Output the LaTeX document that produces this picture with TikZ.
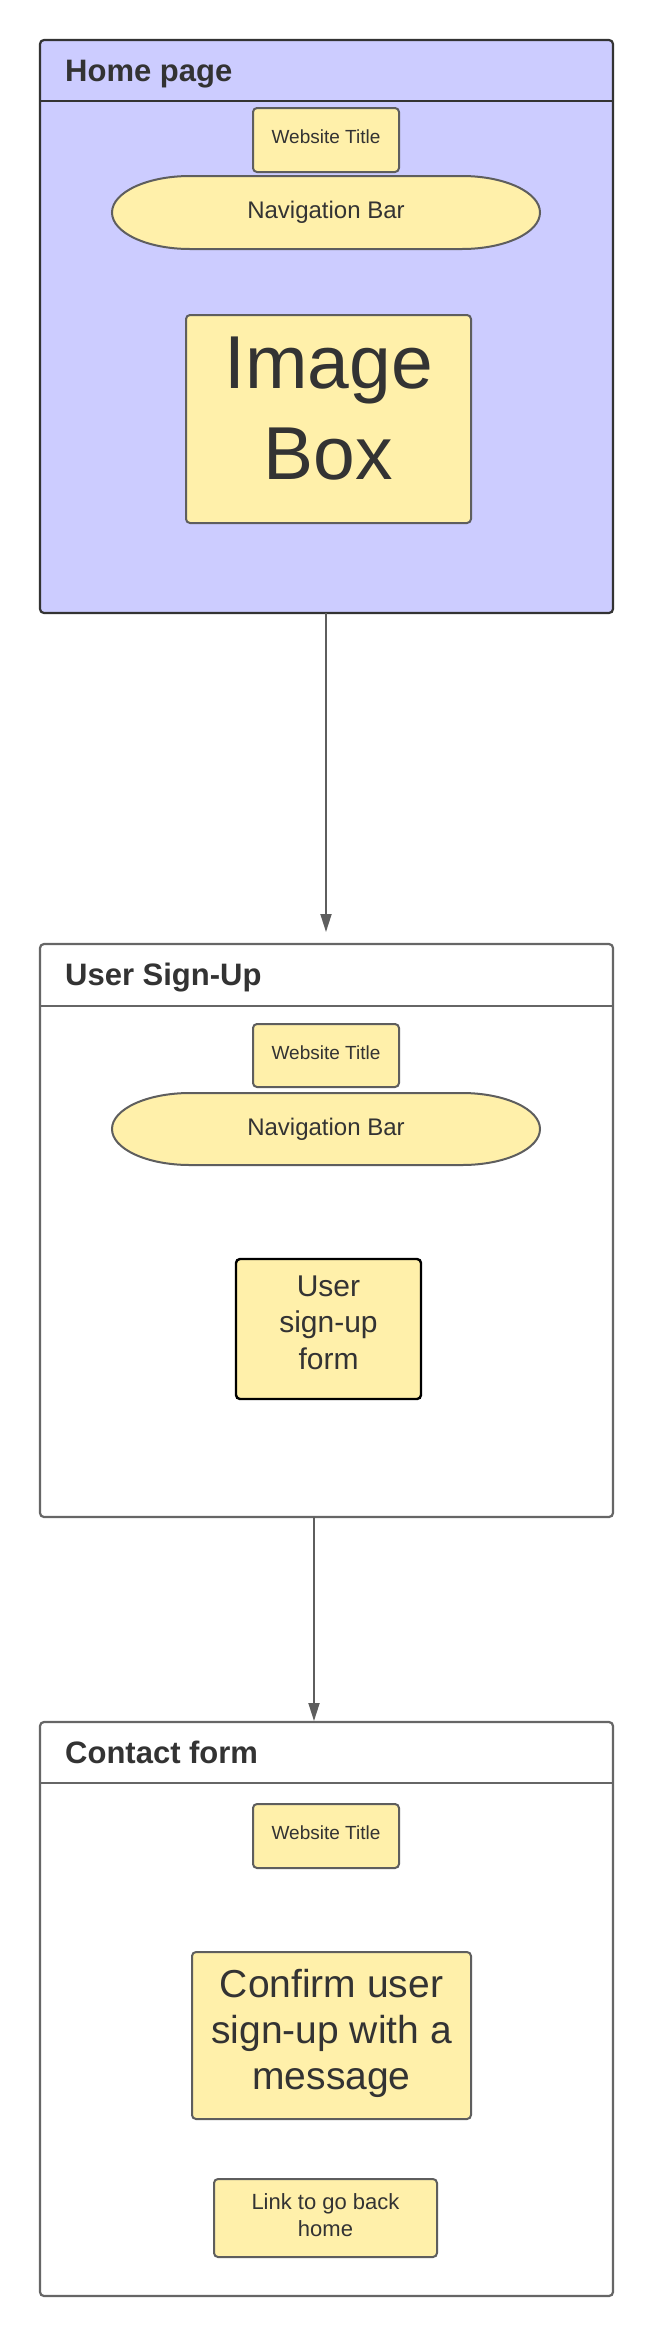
\documentclass[tikz,border=0pt]{standalone}
\usepackage{fontspec}
\setmainfont{Liberation Sans}
\usetikzlibrary{arrows.meta}
\definecolor{txt}{HTML}{333333}
\definecolor{edge}{HTML}{5E5E5E}
\definecolor{frameA}{HTML}{333333}
\definecolor{frameB}{HTML}{666666}
\definecolor{ylw}{HTML}{FFF0AA}
\definecolor{lav}{HTML}{CCCCFF}
\newcommand\lowstrut[1]{\rule[-#1]{0pt}{0pt}}
\begin{document}
\begin{tikzpicture}[x=1pt,y=-1pt,
  frame/.style={draw=frameB,line width=2.2pt,rounded corners=4pt,minimum width=573pt,minimum height=573pt,inner sep=0pt,outer sep=0pt},
  hline/.style={draw=frameB,line width=2.2pt},
  ttl/.style={anchor=base west,text=txt,font=\bfseries\fontsize{31}{37}\selectfont,inner sep=0pt},
  ybox/.style={draw=edge,fill=ylw,line width=2pt,rounded corners=4pt,text=txt,align=center,inner sep=0pt,outer sep=0pt},
  wtitle/.style={ybox,minimum width=146pt,minimum height=64pt,font=\fontsize{19}{23}\selectfont},
  navshape/.style={draw=edge,fill=ylw,line width=2pt},
  navtext/.style={text=txt,inner sep=0pt,font=\fontsize{24}{29}\selectfont},
  conn/.style={draw=edge,line width=1.8pt,-{Triangle[length=18pt,width=11pt]}},
]
\useasboundingbox (0,0) rectangle (653,2337);

% ---------- Home page ----------
\node[frame,draw=frameA,fill=lav] (home) at (326.5,326.5) {};
\draw[hline,draw=frameA] ([yshift=-61pt]home.north west) -- ([yshift=-61pt]home.north east);
\node[ttl] (homettl) at (65,81.7) {Home page};
\node[wtitle] (wt1) at (326,140) {Website Title\lowstrut{6pt}};
\coordinate (n1) at (326,212.5);
\path[navshape] ([shift={(-136,-36.5)}]n1) -- ([shift={(136,-36.5)}]n1)
  arc[start angle=90,end angle=-90,x radius=78pt,y radius=36.5pt]
  -- ([shift={(-136,36.5)}]n1)
  arc[start angle=270,end angle=90,x radius=78pt,y radius=36.5pt] -- cycle;
\node[navtext] (nav1) at (n1) {Navigation Bar};
\node[ybox,minimum width=285pt,minimum height=208pt,font=\fontsize{75}{91}\selectfont] (img) at (328.5,419) {Image\\Box\lowstrut{22pt}};

% ---------- User Sign-Up ----------
\node[frame,fill=white] (signup) at (326.5,1230.5) {};
\draw[hline] ([yshift=-62pt]signup.north west) -- ([yshift=-62pt]signup.north east);
\node[ttl] (signupttl) at (65,985) {User Sign-Up};
\node[wtitle,minimum height=63pt] (wt2) at (326,1055.5) {Website Title\lowstrut{6pt}};
\coordinate (n2) at (326,1129);
\path[navshape] ([shift={(-136,-36)}]n2) -- ([shift={(136,-36)}]n2)
  arc[start angle=90,end angle=-90,x radius=78pt,y radius=36pt]
  -- ([shift={(-136,36)}]n2)
  arc[start angle=270,end angle=90,x radius=78pt,y radius=36pt] -- cycle;
\node[navtext] (nav2) at (n2) {Navigation Bar};
\node[ybox,draw=black,line width=2.4pt,minimum width=185pt,minimum height=140pt,font=\fontsize{30}{36.7}\selectfont] (form) at (328.5,1329) {User\\sign-up\\form\lowstrut{13pt}};

% ---------- Contact form ----------
\node[frame,fill=white,minimum height=574pt] (contact) at (326.5,2009) {};
\draw[hline] ([yshift=-61pt]contact.north west) -- ([yshift=-61pt]contact.north east);
\node[ttl] (contactttl) at (65,1763) {Contact form};
\node[wtitle] (wt3) at (326,1836) {Website Title\lowstrut{6pt}};
\node[ybox,minimum width=279pt,minimum height=167pt,font=\fontsize{39}{46}\selectfont] (confirm) at (331.5,2035.5) {Confirm user\\sign-up with a\\message\lowstrut{12pt}};
\node[ybox,minimum width=223pt,minimum height=78pt,font=\fontsize{22}{27}\selectfont] (link) at (325.5,2218) {Link to go back\\home\lowstrut{6pt}};

% ---------- connectors ----------
\draw[conn,shorten >=12pt] ([xshift=-0.5pt]home.south) -- ([xshift=-0.5pt]signup.north);
\draw[conn,shorten >=1pt] ([xshift=-12.5pt]signup.south) -- ([xshift=-12.5pt]contact.north);
\end{tikzpicture}
\end{document}
